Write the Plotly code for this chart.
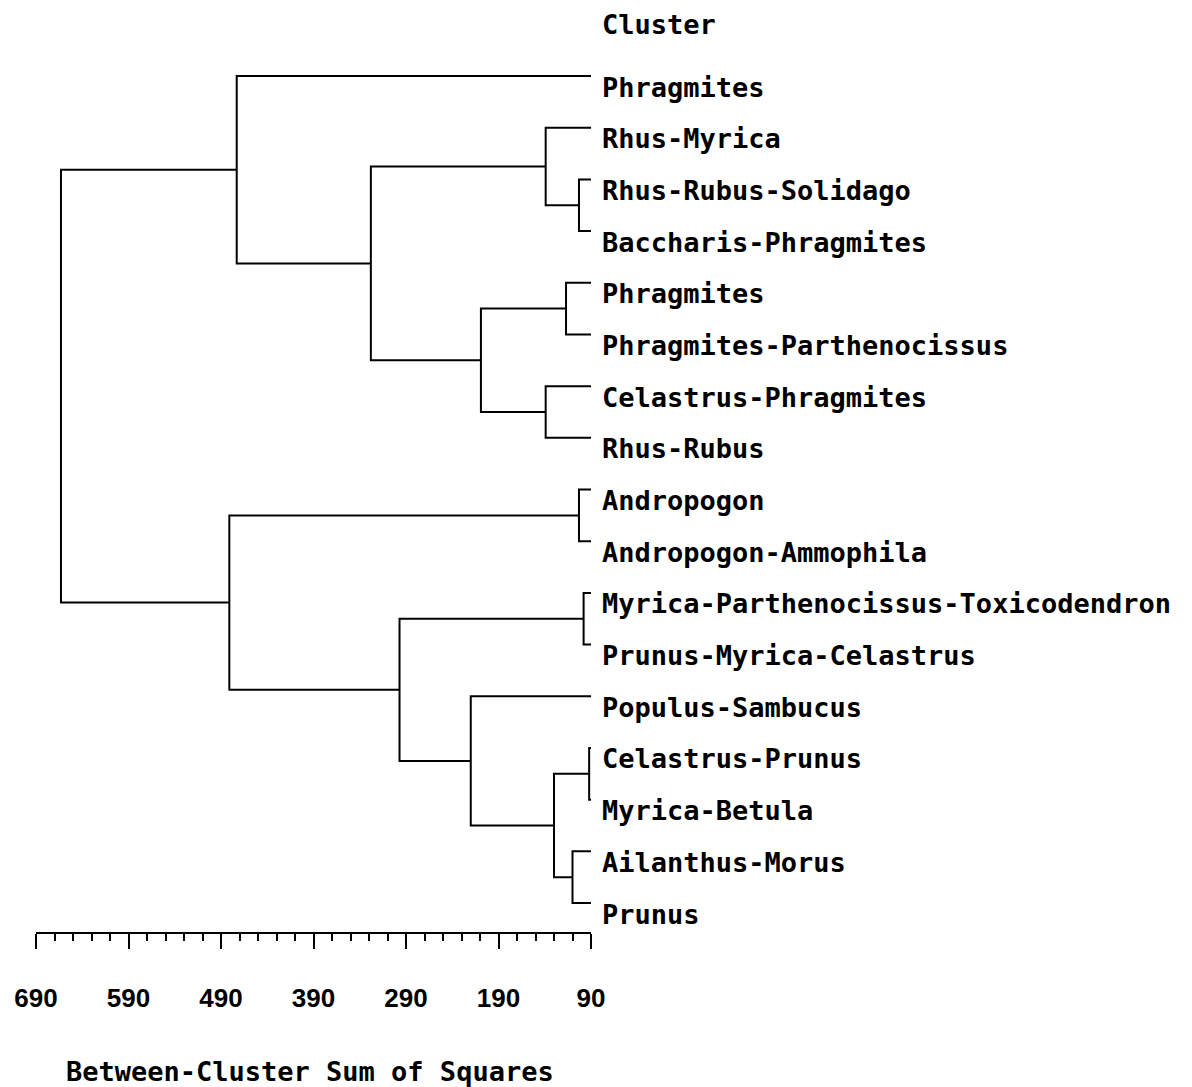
import plotly.graph_objects as go

# ---- data ----
leaves = [
    "Phragmites",
    "Rhus-Myrica",
    "Rhus-Rubus-Solidago",
    "Baccharis-Phragmites",
    "Phragmites",
    "Phragmites-Parthenocissus",
    "Celastrus-Phragmites",
    "Rhus-Rubus",
    "Andropogon",
    "Andropogon-Ammophila",
    "Myrica-Parthenocissus-Toxicodendron",
    "Prunus-Myrica-Celastrus",
    "Populus-Sambucus",
    "Celastrus-Prunus",
    "Myrica-Betula",
    "Ailanthus-Morus",
    "Prunus",
]
# merges: node ids 0..16 are leaves, merges get ids 17, 18, ...
merge_a = [2, 1, 4, 6, 19, 18, 0, 8, 10, 13, 15, 26, 12, 25, 24, 23]
merge_b = [3, 17, 5, 7, 20, 21, 22, 9, 11, 14, 16, 27, 28, 29, 30, 31]
merge_h = [103, 139, 117, 139, 209, 328, 473, 103, 98, 92, 110, 130, 220, 297, 481, 663]
leaf_height = 90

major_ticks = [690, 590, 490, 390, 290, 190, 90]
tick_labels = ["690", "590", "490", "390", "290", "190", "90"]
axis_title = "Between-Cluster Sum of Squares"
header = "Cluster"

# ---- build dendrogram geometry ----
node_x = [leaf_height] * len(leaves)
node_y = [i + 1 for i in range(len(leaves))]
xs, ys = [], []
for a, b, h in zip(merge_a, merge_b, merge_h):
    xs += [node_x[a], h, h, node_x[b], None]
    ys += [node_y[a], node_y[a], node_y[b], node_y[b], None]
    node_x.append(h)
    node_y.append((node_y[a] + node_y[b]) / 2)

fig = go.Figure()
fig.add_trace(go.Scatter(x=xs, y=ys, mode="lines",
                         line=dict(color="black", width=2),
                         hoverinfo="skip", showlegend=False))

label_font = dict(family="DejaVu Sans Mono", size=27, color="black", weight="bold")
for i, name in enumerate(leaves):
    fig.add_annotation(x=leaf_height, y=i + 1, text=name, showarrow=False,
                       xanchor="left", yanchor="middle", xshift=9, yshift=-11,
                       font=label_font)
fig.add_annotation(x=leaf_height, y=0, text=header, showarrow=False,
                   xanchor="left", yanchor="middle", xshift=9, yshift=0,
                   font=label_font)

W, H = 1192, 1087
ml, mr, mt, mb = 36, 601, 10, 155
fig.add_annotation(xref="paper", yref="paper", x=(64 - ml) / (W - ml - mr),
                   y=-(1071 - (H - mb)) / (H - mt - mb), text=axis_title,
                   showarrow=False, xanchor="left", yanchor="middle",
                   font=dict(family="DejaVu Sans Mono", size=27, color="black",
                             weight="bold"))

fig.update_layout(
    width=W, height=H,
    margin=dict(l=ml, r=mr, t=mt, b=mb),
    paper_bgcolor="white", plot_bgcolor="white",
    showlegend=False,
    xaxis=dict(range=[690, 90], tickmode="array", tickvals=major_ticks,
               ticktext=tick_labels, ticks="outside", ticklen=15, tickwidth=2,
               tickcolor="black", showline=True, linewidth=2, linecolor="black",
               showgrid=False, zeroline=False, ticklabelstandoff=27,
               tickfont=dict(family="Liberation Sans", size=26, color="black",
                             weight="bold"),
               minor=dict(dtick=20, tick0=90, ticks="outside", ticklen=7,
                          tickwidth=2, tickcolor="black", showgrid=False)),
    yaxis=dict(range=[17.56, -0.277], visible=False, showgrid=False,
               zeroline=False),
)

fig.write_html("out.html", config={"displayModeBar": False})
